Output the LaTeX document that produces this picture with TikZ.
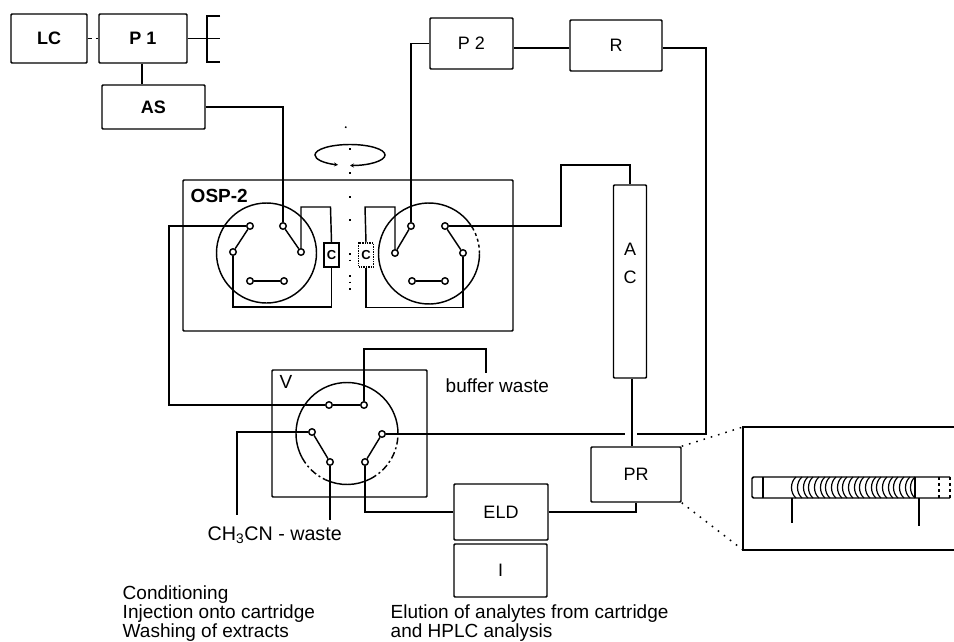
\documentclass[tikz,border=0pt]{standalone}
\usepackage{fontspec}
\usetikzlibrary{arrows.meta}
\setmainfont{Liberation Sans}
\tikzset{
  every node/.style={font=\fontsize{18}{19}\selectfont},
  unitbox/.style={draw,rounded corners=1pt,inner sep=0pt},
  port/.style={circle,draw,fill=white,inner sep=0pt,minimum size=6.5pt},
  cart/.style={draw,inner sep=0pt,minimum width=15pt,minimum height=24pt,font=\fontsize{13}{13}\selectfont\bfseries},
  caption/.style={anchor=base west,inner sep=0pt,align=left,font=\fontsize{19}{19}\selectfont},
  axisdots/.style={dash pattern=on 1.6pt off 5pt,line width=1.5pt},
  zoomdots/.style={dash pattern=on 1.6pt off 6pt,line width=1.5pt}
}
\begin{document}
\begin{tikzpicture}[x=1pt,y=-1pt,line width=1.45pt]
\useasboundingbox (0,0) rectangle (954,642);
\node[unitbox,minimum width=76pt,minimum height=49pt,font=\fontsize{18}{19}\selectfont\bfseries] (lc) at (49,38.5) {LC};
\node[unitbox,minimum width=88pt,minimum height=49pt,font=\fontsize{18}{19}\selectfont\bfseries] (pone) at (143,38.5) {P 1};
\node[unitbox,minimum width=103pt,minimum height=44pt,font=\fontsize{18}{19}\selectfont\bfseries] (as) at (153.5,107) {AS};
\node[unitbox,minimum width=83pt,minimum height=51pt] (ptwo) at (471.5,43.5) {P 2};
\node[unitbox,minimum width=92pt,minimum height=51pt] (r) at (616,45.5) {R};
\node[unitbox,minimum width=330pt,minimum height=151pt] (osp) at (348,255.5) {};
\node[unitbox,minimum width=155pt,minimum height=127pt] (v) at (349.5,433.5) {};
\node[unitbox,minimum width=33pt,minimum height=193pt,align=center] (ac) at (630,281.5) {};
\node[unitbox,minimum width=90pt,minimum height=55pt] (pr) at (636,474.5) {PR};
\node[unitbox,minimum width=94pt,minimum height=56pt] (eld) at (501,512) {ELD};
\node[unitbox,minimum width=93pt,minimum height=53pt] (i) at (500.5,570.5) {I};
\node (aclabela) at (630,249) {A};
\node (aclabelc) at (630,277) {C};
\node[caption,font=\fontsize{19}{19}\selectfont\bfseries] (osplabel) at (190,202) {OSP-2};
\node[caption] (vlabel) at (279,388) {V};
\node[caption] (bufferlabel) at (445,392) {buffer waste};
\node[caption,font=\fontsize{19.7}{19}\selectfont] (wastelabel) at (207,540) {CH\textsubscript{3}CN - waste};
\node[caption] (leftlabel) at (122,637) {Conditioning\\Injection onto cartridge\\Washing of extracts};
\node[caption] (rightlabel) at (390,637) {Elution of analytes from cartridge\\and HPLC analysis};
\node[circle,draw,inner sep=0pt,minimum size=100pt] (wheell) at (266.5,253) {};
\draw (429,253.5) ++(30:50.5pt) arc[start angle=30,end angle=360,radius=50.5pt];
\draw[dashed] (429,253.5) ++(0:50.5pt) arc[start angle=0,end angle=30,radius=50.5pt];
\draw (347,433.5) ++(0:51pt) arc[start angle=0,end angle=208,radius=51pt];
\draw[dash pattern=on 7pt off 3pt on 2pt off 3pt] (347,433.5) ++(208:51pt) arc[start angle=208,end angle=245,radius=51pt];
\draw (347,433.5) ++(245:51pt) arc[start angle=245,end angle=297,radius=51pt];
\draw[dash pattern=on 7pt off 3pt on 2pt off 3pt] (347,433.5) ++(297:51pt) arc[start angle=297,end angle=360,radius=51pt];
\node[cart] (cl) at (331.5,255) {C};
\node[cart,densely dotted] (cr) at (366,255) {C};
\node[port] (la) at (250,226) {};
\node[port] (lb) at (233,252) {};
\node[port] (lc1) at (250,281) {};
\node[port] (lc2) at (284,281) {};
\node[port] (ld) at (301,252) {};
\node[port] (le) at (283,226) {};
\node[port] (ra) at (445,226) {};
\node[port] (rb) at (463,253) {};
\node[port] (rc1) at (412,281) {};
\node[port] (rc2) at (445,281) {};
\node[port] (rd) at (395,253) {};
\node[port] (re) at (411,226) {};
\node[port] (va) at (329,405) {};
\node[port] (vb) at (364,405) {};
\node[port] (vc) at (312,432) {};
\node[port] (vd) at (382,434) {};
\node[port] (ve) at (330,462) {};
\node[port] (vf) at (365,462) {};
\coordinate (loopl) at (330.5,207);
\coordinate (loopr) at (365,207);
\coordinate (botl) at (233,307);
\coordinate (botr) at (463,307.5);
\coordinate (feed) at (169,226);
\coordinate (outr) at (561,165);
\coordinate (buffer) at (486,349);
\coordinate (bufferend) at (486,373);
\coordinate (acnend) at (237,515);
\coordinate (wasteend) at (330,520);
\coordinate (gapl) at (625,434);
\coordinate (gapr) at (637,434);
\coordinate (back) at (706,434);
\coordinate (insettl) at (743,427);
\coordinate (insetbl) at (743,550);
\draw[dash pattern=on 4pt off 4pt] (lc.east) -- (lc.east -| pone.west);
\draw (pone.south -| 142,0) -- (as.north -| 142,0);
\draw (pone.east) -- (220,38.5);
\draw (220,16) -- (207,16) -- (207,62) -- (220,62);
\draw (as.east) -| (le);
\draw (ptwo.west) -| (re);
\draw ([yshift=-2.5pt]r.west) -- ([yshift=-2.5pt]r.west -| ptwo.east);
\draw ([yshift=-2.5pt]r.east) -| (back) -- (gapr);
\draw (la) -- (lb);
\draw (le) -- (ld);
\draw (lc1) -- (lc2);
\draw (re) -- (rd);
\draw (ra) -- (rb);
\draw (rc1) -- (rc2);
\draw (ld) |- (loopl) -- (cl.north);
\draw (cl.south) |- (botl) -- (lb);
\draw (rd) |- (loopr) -- (cr.north);
\draw (cr.south) |- (botr) -- (rb);
\draw (la) -- (feed) |- (va);
\draw (ra) -| (outr) -| (ac.north);
\draw (va) -- (vb);
\draw (vc) -- (ve);
\draw (vd) -- (vf);
\draw (vb) |- (buffer) -- (bufferend);
\draw (vc) -| (acnend);
\draw (ve) -- (wasteend);
\draw (vf) |- (eld.west);
\draw (vd) -- (gapl);
\draw (ac.south -| 632,0) -- (pr.north -| 632,0);
\draw (eld.east) -| (pr.south);
\draw[zoomdots] (pr.north east) -- (insettl);
\draw[zoomdots] (pr.south east) -- (insetbl);
\draw (954,427) -- (insettl) -- (insetbl) -- (954,550);
\draw[rounded corners=1.5pt] (950,477) -- (752,477) -- (752,498) -- (950,498);
\draw (763,477) -- (763,498);
\draw (915,477) -- (915,498);
\draw[dashed] (939,477) -- (939,498);
\draw[dashed] (950,477) -- (950,498);
\draw (792,498) -- (792,523);
\draw (919,498) -- (919,526);
\draw[line width=1.2pt] (796,477) .. controls (790,482) and (790,493) .. (796,498);
\draw[line width=1.2pt] (802,477) .. controls (796,482) and (796,493) .. (802,498);
\draw[line width=1.2pt] (808,477) .. controls (802,482) and (802,493) .. (808,498);
\draw[line width=1.2pt] (813,477) .. controls (807,482) and (807,493) .. (813,498);
\draw[line width=1.2pt] (819,477) .. controls (813,482) and (813,493) .. (819,498);
\draw[line width=1.2pt] (825,477) .. controls (819,482) and (819,493) .. (825,498);
\draw[line width=1.2pt] (830,477) .. controls (824,482) and (824,493) .. (830,498);
\draw[line width=1.2pt] (836,477) .. controls (830,482) and (830,493) .. (836,498);
\draw[line width=1.2pt] (842,477) .. controls (836,482) and (836,493) .. (842,498);
\draw[line width=1.2pt] (847,477) .. controls (841,482) and (841,493) .. (847,498);
\draw[line width=1.2pt] (853,477) .. controls (847,482) and (847,493) .. (853,498);
\draw[line width=1.2pt] (859,477) .. controls (853,482) and (853,493) .. (859,498);
\draw[line width=1.2pt] (864,477) .. controls (858,482) and (858,493) .. (864,498);
\draw[line width=1.2pt] (870,477) .. controls (864,482) and (864,493) .. (870,498);
\draw[line width=1.2pt] (876,477) .. controls (870,482) and (870,493) .. (876,498);
\draw[line width=1.2pt] (881,477) .. controls (875,482) and (875,493) .. (881,498);
\draw[line width=1.2pt] (887,477) .. controls (881,482) and (881,493) .. (887,498);
\draw[line width=1.2pt] (893,477) .. controls (887,482) and (887,493) .. (893,498);
\draw[line width=1.2pt] (898,477) .. controls (892,482) and (892,493) .. (898,498);
\draw[line width=1.2pt] (904,477) .. controls (898,482) and (898,493) .. (904,498);
\draw[line width=1.2pt] (910,477) .. controls (904,482) and (904,493) .. (910,498);
\draw[line width=1.2pt] (915,477) .. controls (909,482) and (909,493) .. (915,498);
\draw[{Stealth[length=4pt,width=4pt]}-{Stealth[length=4pt,width=4pt]}] (350,165.5) arc[start angle=-90,end angle=250,x radius=35pt,y radius=10.5pt];
\draw[axisdots] (345,127) -- (351,129);
\draw[axisdots] (350,148) -- (350,150);
\draw[axisdots] (350,172) -- (350,178);
\draw[axisdots] (350,196) -- (350,200);
\draw[axisdots] (350,219) -- (350,221);
\draw[axisdots] (350,253) -- (350,265);
\draw[axisdots] (350,275) -- (350,294);
\end{tikzpicture}
\end{document}
